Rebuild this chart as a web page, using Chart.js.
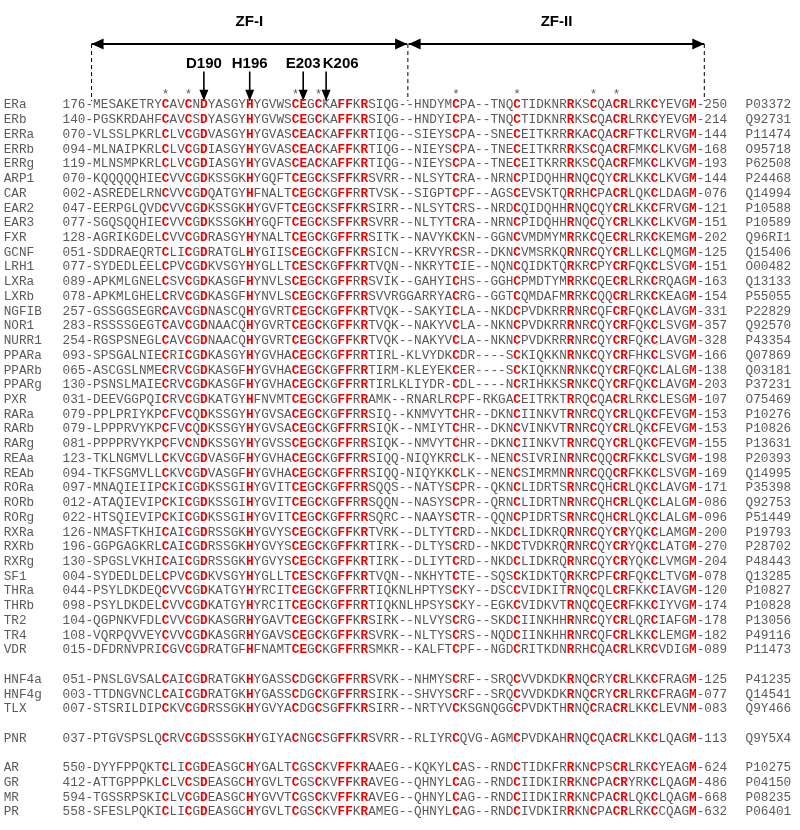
<!DOCTYPE html>
<html><head><meta charset="utf-8">
<script src="https://cdn.jsdelivr.net/npm/chart.js@4/dist/chart.umd.min.js"></script>
<style>html,body{margin:0;padding:0;background:#fff}#c{display:block}</style>
</head><body>
<canvas id="c" width="800" height="830"></canvas>
<script>
// ---------------- DATA ----------------
const names = ['ERa','ERb','ERRa','ERRb','ERRg','ARP1','CAR','EAR2','EAR3','FXR','GCNF','LRH1','LXRa','LXRb','NGFIB','NOR1','NURR1','PPARa','PPARb','PPARg','PXR','RARa','RARb','RARg','REAa','REAb','RORa','RORb','RORg','RXRa','RXRb','RXRg','SF1','THRa','THRb','TR2','TR4','VDR',
  'HNF4a','HNF4g','TLX','PNR','AR','GR','MR','PR'];
const starts = ['176','140','070','094','119','070','002','047','077','128','051','077','089','078','257','283','254','093','065','130','031','079','079','081','123','094','097','012','022','126','196','130','004','044','098','104','108','015',
  '051','003','007','037','550','412','594','558'];
const seqs = [
 'MESAKETRYCAVCNDYASGYHYGVWSCEGCKAFFKRSIQG--HNDYMCPA--TNQCTIDKNRRKSCQACRLRKCYEVGM',
 'PGSKRDAHFCAVCSDYASGYHYGVWSCEGCKAFFKRSIQG--HNDYICPA--TNQCTIDKNRRKSCQACRLRKCYEVGM',
 'VLSSLPKRLCLVCGDVASGYHYGVASCEACKAFFKRTIQG--SIEYSCPA--SNECEITKRRRKACQACRFTKCLRVGM',
 'MLNAIPKRLCLVCGDIASGYHYGVASCEACKAFFKRTIQG--NIEYSCPA--TNECEITKRRRKSCQACRFMKCLKVGM',
 'MLNSMPKRLCLVCGDIASGYHYGVASCEACKAFFKRTIQG--NIEYSCPA--TNECEITKRRRKSCQACRFMKCLKVGM',
 'KQQQQQHIECVVCGDKSSGKHYGQFTCEGCKSFFKRSVRR--NLSYTCRA--NRNCPIDQHHRNQCQYCRLKKCLKVGM',
 'ASREDELRNCVVCGDQATGYHFNALTCEGCKGFFRRTVSK--SIGPTCPF--AGSCEVSKTQRRHCPACRLQKCLDAGM',
 'EERPGLQVDCVVCGDKSSGKHYGVFTCEGCKSFFKRSIRR--NLSYTCRS--NRDCQIDQHHRNQCQYCRLKKCFRVGM',
 'SGQSQQHIECVVCGDKSSGKHYGQFTCEGCKSFFKRSVRR--NLTYTCRA--NRNCPIDQHHRNQCQYCRLKKCLKVGM',
 'AGRIKGDELCVVCGDRASGYHYNALTCEGCKGFFRRSITK--NAVYKCKN--GGNCVMDMYMRRKCQECRLRKCKEMGM',
 'SDDRAEQRTCLICGDRATGLHYGIISCEGCKGFFKRSICN--KRVYRCSR--DKNCVMSRKQRNRCQYCRLLKCLQMGM',
 'SYDEDLEELCPVCGDKVSGYHYGLLTCESCKGFFKRTVQN--NKRYTCIE--NQNCQIDKTQRKRCPYCRFQKCLSVGM',
 'APKMLGNELCSVCGDKASGFHYNVLSCEGCKGFFRRSVIK--GAHYICHS--GGHCPMDTYMRRKCQECRLRKCRQAGM',
 'APKMLGHELCRVCGDKASGFHYNVLSCEGCKGFFRRSVVRGGARRYACRG--GGTCQMDAFMRRKCQQCRLRKCKEAGM',
 'GSSGGSEGRCAVCGDNASCQHYGVRTCEGCKGFFKRTVQK--SAKYICLA--NKDCPVDKRRRNRCQFCRFQKCLAVGM',
 'RSSSSGEGTCAVCGDNAACQHYGVRTCEGCKGFFKRTVQK--NAKYVCLA--NKNCPVDKRRRNRCQYCRFQKCLSVGM',
 'RGSPSNEGLCAVCGDNAACQHYGVRTCEGCKGFFKRTVQK--NAKYVCLA--NKNCPVDKRRRNRCQYCRFQKCLAVGM',
 'SPSGALNIECRICGDKASGYHYGVHACEGCKGFFRRTIRL-KLVYDKCDR----SCKIQKKNRNKCQYCRFHKCLSVGM',
 'ASCGSLNMECRVCGDKASGFHYGVHACEGCKGFFRRTIRM-KLEYEKCER----SCKIQKKNRNKCQYCRFQKCLALGM',
 'PSNSLMAIECRVCGDKASGFHYGVHACEGCKGFFRRTIRLKLIYDR-CDL----NCRIHKKSRNKCQYCRFQKCLAVGM',
 'DEEVGGPQICRVCGDKATGYHFNVMTCEGCKGFFRRAMK--RNARLRCPF-RKGACEITRKTRRQCQACRLRKCLESGM',
 'PPLPRIYKPCFVCQDKSSGYHYGVSACEGCKGFFRRSIQ--KNMVYTCHR--DKNCIINKVTRNRCQYCRLQKCFEVGM',
 'LPPPRVYKPCFVCQDKSSGYHYGVSACEGCKGFFRRSIQK--NMIYTCHR--DKNCVINKVTRNRCQYCRLQKCFEVGM',
 'PPPPRVYKPCFVCNDKSSGYHYGVSSCEGCKGFFRRSIQK--NMVYTCHR--DKNCIINKVTRNRCQYCRLQKCFEVGM',
 'TKLNGMVLLCKVCGDVASGFHYGVHACEGCKGFFRRSIQQ-NIQYKRCLK--NENCSIVRINRNRCQQCRFKKCLSVGM',
 'TKFSGMVLLCKVCGDVASGFHYGVHACEGCKGFFRRSIQQ-NIQYKKCLK--NENCSIMRMNRNRCQQCRFKKCLSVGM',
 'MNAQIEIIPCKICGDKSSGIHYGVITCEGCKGFFRRSQQS--NATYSCPR--QKNCLIDRTSRNRCQHCRLQKCLAVGM',
 'ATAQIEVIPCKICGDKSSGIHYGVITCEGCKGFFRRSQQN--NASYSCPR--QRNCLIDRTNRNRCQHCRLQKCLALGM',
 'HTSQIEVIPCKICGDKSSGIHYGVITCEGCKGFFRRSQRC--NAAYSCTR--QQNCPIDRTSRNRCQHCRLQKCLALGM',
 'NMASFTKHICAICGDRSSGKHYGVYSCEGCKGFFKRTVRK--DLTYTCRD--NKDCLIDKRQRNRCQYCRYQKCLAMGM',
 'GGPGAGKRLCAICGDRSSGKHYGVYSCEGCKGFFKRTIRK--DLTYSCRD--NKDCTVDKRQRNRCQYCRYQKCLATGM',
 'SPGSLVKHICAICGDRSSGKHYGVYSCEGCKGFFKRTIRK--DLIYTCRD--NKDCLIDKRQRNRCQYCRYQKCLVMGM',
 'SYDEDLDELCPVCGDKVSGYHYGLLTCESCKGFFKRTVQN--NKHYTCTE--SQSCKIDKTQRKRCPFCRFQKCLTVGM',
 'PSYLDKDEQCVVCGDKATGYHYRCITCEGCKGFFRRTIQKNLHPTYSCKY--DSCCVIDKITRNQCQLCRFKKCIAVGM',
 'PSYLDKDELCVVCGDKATGYHYRCITCEGCKGFFRRTIQKNLHPSYSCKY--EGKCVIDKVTRNQCQECRFKKCIYVGM',
 'QGPNKVFDLCVVCGDKASGRHYGAVTCEGCKGFFKRSIRK--NLVYSCRG--SKDCIINKHHRNRCQYCRLQRCIAFGM',
 'VQRPQVVEYCVVCGDKASGRHYGAVSCEGCKGFFKRSVRK--NLTYSCRS--NQDCIINKHHRNRCQFCRLKKCLEMGM',
 'DFDRNVPRICGVCGDRATGFHFNAMTCEGCKGFFRRSMKR--KALFTCPF--NGDCRITKDNRRHCQACRLKRCVDIGM',
 'PNSLGVSALCAICGDRATGKHYGASSCDGCKGFFRRSVRK--NHMYSCRF--SRQCVVDKDKRNQCRYCRLKKCFRAGM',
 'TTDNGVNCLCAICGDRATGKHYGASSCDGCKGFFRRSIRK--SHVYSCRF--SRQCVVDKDKRNQCRYCRLRKCFRAGM',
 'STSRILDIPCKVCGDRSSGKHYGVYACDGCSGFFKRSIRR--NRTYVCKSGNQGGCPVDKTHRNQCRACRLKKCLEVNM',
 'PTGVSPSLQCRVCGDSSSGKHYGIYACNGCSGFFKRSVRR--RLIYRCQVG-AGMCPVDKAHRNQCQACRLKKCLQAGM',
 'DYYFPPQKTCLICGDEASGCHYGALTCGSCKVFFKRAAEG--KQKYLCAS--RNDCTIDKFRRKNCPSCRLRKCYEAGM',
 'ATTGPPPKLCLVCSDEASGCHYGVLTCGSCKVFFKRAVEG--QHNYLCAG--RNDCIIDKIRRKNCPACRYRKCLQAGM',
 'TGSSRPSKICLVCGDEASGCHYGVVTCGSCKVFFKRAVEG--QHNYLCAG--RNDCIIDKIRRKNCPACRLQKCLQAGM',
 'SFESLPQKICLICGDEASGCHYGVLTCGSCKVFFKRAMEG--QHNYLCAG--RNDCIVDKIRRKNCPACRLRKCCQAGM'
];
const ends = ['250','214','144','168','193','144','076','121','151','202','125','151','163','154','331','357','328','166','138','203','107','153','153','155','198','169','171','086','096','200','270','204','078','120','174','178','182','089',
  '125','077','083','113','624','486','668','632'];
const accessions = ['P03372','Q92731','P11474','O95718','P62508','P24468','Q14994','P10588','P10589','Q96RI1','Q15406','O00482','Q13133','P55055','P22829','Q92570','P43354','Q07869','Q03181','P37231','O75469','P10276','P10826','P13631','P20393','Q14995','P35398','Q92753','P51449','P19793','P28702','P48443','Q13285','P10827','P10828','P13056','P49116','P11473',
  'P41235','Q14541','Q9Y466','Q9Y5X4','P10275','P04150','P08235','P06401'];
const groupSizes = [38, 3, 1, 4];               // rows per block, blocks separated by a blank line
const conservedCols = [10,13,15,21,27,28,30,33,34,36,48,56,63,66,69,70,74,79];   // alignment columns (1-based)
const conservedRes  = ['C','C','D','H','C','E','C','F','F','R','C','C','R','C','C','R','C','M'];
const starCols = [10,13,27,30,48,56,66,69];
const mutLabels = ['D190','H196','E203','K206'];
const mutCols = [15,21,28,31];
const domainLabels = ['ZF-I','ZF-II'];
const domainFrom = [-0.2, 41.3];
const domainTo   = [41.1, 80.0];

// ---------------- LAYOUT ----------------
const W = 800, H = 830;
const X0 = 93.1, CW = 7.64;   // pixel of column boundary 0, char width
const Y0 = 104, RH = 14.73;   // pixel of first row, row height
const nameCol = -11.7, accCol = 85.4;
const mutLabelShift = [0, 0, 0, 1.9];
const R_ZF = -5.57, R_ZFLINE = -4.07, R_MUT = -2.75, R_MUTTOP = -2.2, R_MUTTIP = -0.22, R_STAR = -0.88, R_DASHEND = -0.2;
const FONT = '"Liberation Mono", "DejaVu Sans Mono", monospace';
const GRAY = '#5a5a5a', RED = '#f00000';

// row index of each sequence (blank line between blocks)
const rowIdx = [];
{ let r = 0; groupSizes.forEach((n, g) => { for (let i = 0; i < n; i++) rowIdx.push(r++); r++; }); }

// line datasets (arrow shafts & dashed domain borders)
const datasets = [];
domainLabels.forEach((l, i) => datasets.push({
  label: l, data: [{x: domainFrom[i], y: R_ZFLINE}, {x: domainTo[i], y: R_ZFLINE}],
  showLine: true, borderColor: '#000', borderWidth: 2, pointRadius: 0
}));
[domainFrom[0], (domainTo[0] + domainFrom[1]) / 2, domainTo[1]].forEach((c, i) => datasets.push({
  label: 'border' + i, data: [{x: c, y: R_ZFLINE}, {x: c, y: R_DASHEND}],
  showLine: true, borderColor: '#000', borderWidth: 1, borderDash: [4, 3], pointRadius: 0
}));
mutLabels.forEach((l, i) => datasets.push({
  label: l, data: [{x: mutCols[i] - 0.5, y: R_MUTTOP}, {x: mutCols[i] - 0.5, y: R_MUTTIP}],
  showLine: true, borderColor: '#000', borderWidth: 1.6, pointRadius: 0
}));

const textPlugin = {
  id: 'alignText',
  afterDatasetsDraw(chart) {
    const ctx = chart.ctx, xs = chart.scales.x, ys = chart.scales.y;
    const X = u => xs.getPixelForValue(u), Y = r => ys.getPixelForValue(r);
    ctx.save();
    // arrowheads
    ctx.fillStyle = '#000';
    const tri = (tx, ty, dx, dy, len, half) => {
      ctx.beginPath();
      ctx.moveTo(tx, ty);
      ctx.lineTo(tx - dx * len - dy * half, ty - dy * len - dx * half);
      ctx.lineTo(tx - dx * len + dy * half, ty - dy * len + dx * half);
      ctx.closePath(); ctx.fill();
    };
    domainLabels.forEach((l, i) => {
      tri(X(domainFrom[i]), Y(R_ZFLINE), -1, 0, 12, 5.5);
      tri(X(domainTo[i]), Y(R_ZFLINE), 1, 0, 12, 5.5);
    });
    mutCols.forEach(c => tri(X(c - 0.5), Y(R_MUTTIP), 0, 1, 11, 4.5));
    // labels
    ctx.textAlign = 'center'; ctx.textBaseline = 'middle';
    ctx.font = 'bold 15px "Liberation Sans", Arial, sans-serif';
    domainLabels.forEach((l, i) => ctx.fillText(l, X((domainFrom[i] + domainTo[i]) / 2), Y(R_ZF)));
    mutLabels.forEach((l, i) => ctx.fillText(l, X(mutCols[i] - 0.5 + mutLabelShift[i]), Y(R_MUT)));
    // asterisks
    ctx.textBaseline = 'alphabetic';
    ctx.font = '12.7px ' + FONT; ctx.fillStyle = GRAY;
    starCols.forEach(c => ctx.fillText('*', X(c - 0.5), Y(R_STAR) + 7));
    // rows
    const fs = 12.7, bl = 4.4;
    seqs.forEach((s, i) => {
      const y = Y(rowIdx[i]) + bl;
      ctx.fillStyle = GRAY; ctx.font = fs + 'px ' + FONT;
      ctx.textAlign = 'left';
      ctx.fillText(names[i], X(nameCol), y);
      ctx.fillText(accessions[i], X(accCol), y);
      ctx.textAlign = 'center';
      const pre = starts[i] + '-', post = '-' + ends[i];
      for (let k = 0; k < 4; k++) ctx.fillText(pre[k], X(-4 + k + 0.5), y);
      for (let k = 0; k < 4; k++) ctx.fillText(post[k], X(79 + k + 0.5), y);
      for (let k = 0; k < s.length; k++) {
        const col = k + 1, ci = conservedCols.indexOf(col);
        const hi = ci >= 0 && s[k] === conservedRes[ci];
        ctx.fillStyle = hi ? RED : GRAY;
        ctx.font = (hi ? 'bold ' : '') + fs + 'px ' + FONT;
        ctx.fillText(s[k], X(k + 0.5), y);
      }
    });
    ctx.restore();
  }
};

new Chart(document.getElementById('c'), {
  type: 'scatter',
  data: { datasets },
  options: {
    responsive: false, animation: false, devicePixelRatio: 1,
    layout: { padding: 0 },
    plugins: { legend: { display: false }, tooltip: { enabled: false } },
    scales: {
      x: { type: 'linear', display: false, min: -X0 / CW, max: (W - X0) / CW },
      y: { type: 'linear', display: false, reverse: true, min: -Y0 / RH, max: (H - Y0) / RH }
    }
  },
  plugins: [textPlugin]
});
</script>
</body></html>
